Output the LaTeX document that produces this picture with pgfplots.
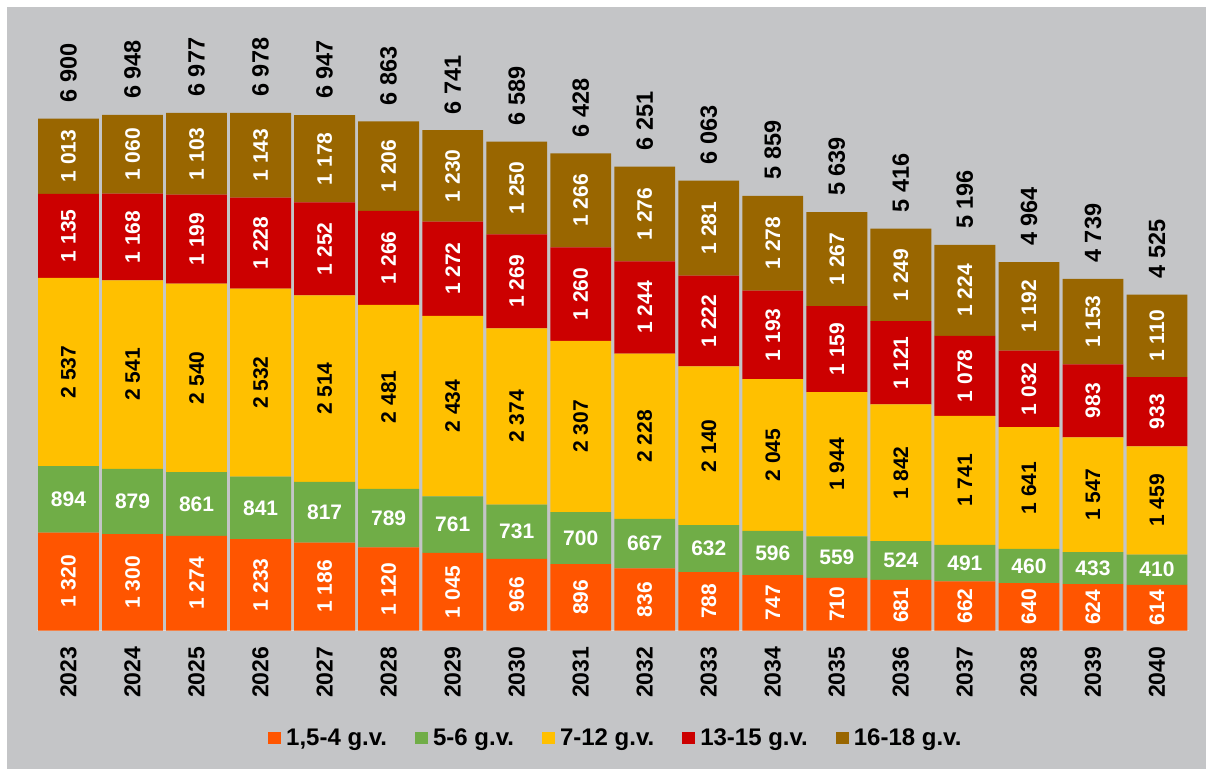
\documentclass[border=0pt]{standalone}
\usepackage{fontspec}
\setmainfont{Liberation Sans}
\usepackage{pgfplots}
\usepackage{pgfplotstable}
\pgfplotsset{compat=1.18}

\definecolor{bg}{RGB}{196,197,199}
\definecolor{cOrange}{RGB}{255,85,0}
\definecolor{cGreen}{RGB}{112,173,71}
\definecolor{cYellow}{RGB}{255,192,0}
\definecolor{cRed}{RGB}{204,0,0}
\definecolor{cBrown}{RGB}{153,102,0}
\definecolor{axisline}{RGB}{220,220,220}

% children by age group, per year
\pgfplotstableread{
year o    g   y    r    b    total
2023 1320 894 2537 1135 1013 6900
2024 1300 879 2541 1168 1060 6948
2025 1274 861 2540 1199 1103 6977
2026 1233 841 2532 1228 1143 6978
2027 1186 817 2514 1252 1178 6947
2028 1120 789 2481 1266 1206 6863
2029 1045 761 2434 1272 1230 6741
2030 966  731 2374 1269 1250 6589
2031 896  700 2307 1260 1266 6428
2032 836  667 2228 1244 1276 6251
2033 788  632 2140 1222 1281 6063
2034 747  596 2045 1193 1278 5859
2035 710  559 1944 1159 1267 5639
2036 681  524 1842 1121 1249 5416
2037 662  491 1741 1078 1224 5196
2038 640  460 1641 1032 1192 4964
2039 624  433 1547 983  1153 4739
2040 614  410 1459 933  1110 4525
}\data

\pgfplotsset{
  common/.style={
    width=1152.5pt, height=593.6pt, scale only axis,
    at={(36.5pt,138.5pt)}, anchor=south west,
    xmin=2022.5, xmax=2040.5, ymin=0, ymax=8000,
    /pgf/number format/1000 sep={\ },
    /pgf/number format/assume math mode=true,
  },
  lab/.style={draw=none, mark=none, nodes near coords, point meta=explicit,
    every node near coord/.append style={anchor=center, inner sep=0pt,
      font=\bfseries\fontsize{21}{24}\selectfont, #1}},
}

\begin{document}
\begin{tikzpicture}
\useasboundingbox (0,0) rectangle (1206pt,769pt);
\fill[white] (0,0) rectangle (1206pt,769pt);
\fill[bg] (7pt,0) rectangle (1206pt,762pt);

\begin{axis}[common,
  ybar stacked, bar width=0.95,
  axis x line=bottom, axis y line=none,
  x axis line style={draw=axisline, line width=1.5pt, -},
  xtick={2023,...,2040}, major tick length=0pt, xtick style={draw=none},
  xticklabel style={rotate=90, anchor=east, inner xsep=16pt, inner ysep=0pt,
    font=\bfseries\fontsize{23}{26}\selectfont,
    /pgf/number format/1000 sep={}},
  legend columns=5,
  legend style={at={(axis description cs:0.2010,-0.181)}, anchor=west,
    draw=none, fill=none, inner sep=0pt, outer sep=0pt,
    font=\bfseries\fontsize{24}{27}\selectfont,
    /tikz/every odd column/.append style={column sep=5pt},
    /tikz/every even column/.append style={column sep=28pt},
    nodes={inner sep=0pt}},
  legend image code/.code={\fill[#1] (0pt,-6.35pt) rectangle (13pt,6.35pt);},
]
\addplot[fill=cOrange, draw=none] table[x=year, y=o] {\data};
\addlegendentry{1,5-4 g.v.}
\addplot[fill=cGreen, draw=none] table[x=year, y=g] {\data};
\addlegendentry{5-6 g.v.}
\addplot[fill=cYellow, draw=none] table[x=year, y=y] {\data};
\addlegendentry{7-12 g.v.}
\addplot[fill=cRed, draw=none] table[x=year, y=r] {\data};
\addlegendentry{13-15 g.v.}
\addplot[fill=cBrown, draw=none] table[x=year, y=b] {\data};
\addlegendentry{16-18 g.v.}
\end{axis}

% value labels: centre of each segment, totals above the bars
\begin{axis}[common, hide axis, clip=false]
\addplot[lab={rotate=90, text=white}]
  table[x=year, y expr=\thisrow{o}/2, meta=o] {\data};
\addplot[lab={text=white}]
  table[x=year, y expr=\thisrow{o}+\thisrow{g}/2, meta=g] {\data};
\addplot[lab={rotate=90, text=black}]
  table[x=year, y expr=\thisrow{o}+\thisrow{g}+\thisrow{y}/2, meta=y] {\data};
\addplot[lab={rotate=90, text=white}]
  table[x=year, y expr=\thisrow{o}+\thisrow{g}+\thisrow{y}+\thisrow{r}/2, meta=r] {\data};
\addplot[lab={rotate=90, text=white}]
  table[x=year, y expr=\thisrow{o}+\thisrow{g}+\thisrow{y}+\thisrow{r}+\thisrow{b}/2, meta=b] {\data};
\addplot[lab={rotate=90, text=black, anchor=west, inner xsep=16pt,
    font=\bfseries\fontsize{23.5}{26}\selectfont}]
  table[x=year, y expr=\thisrow{o}+\thisrow{g}+\thisrow{y}+\thisrow{r}+\thisrow{b}, meta=total] {\data};
\end{axis}
\end{tikzpicture}
\end{document}
